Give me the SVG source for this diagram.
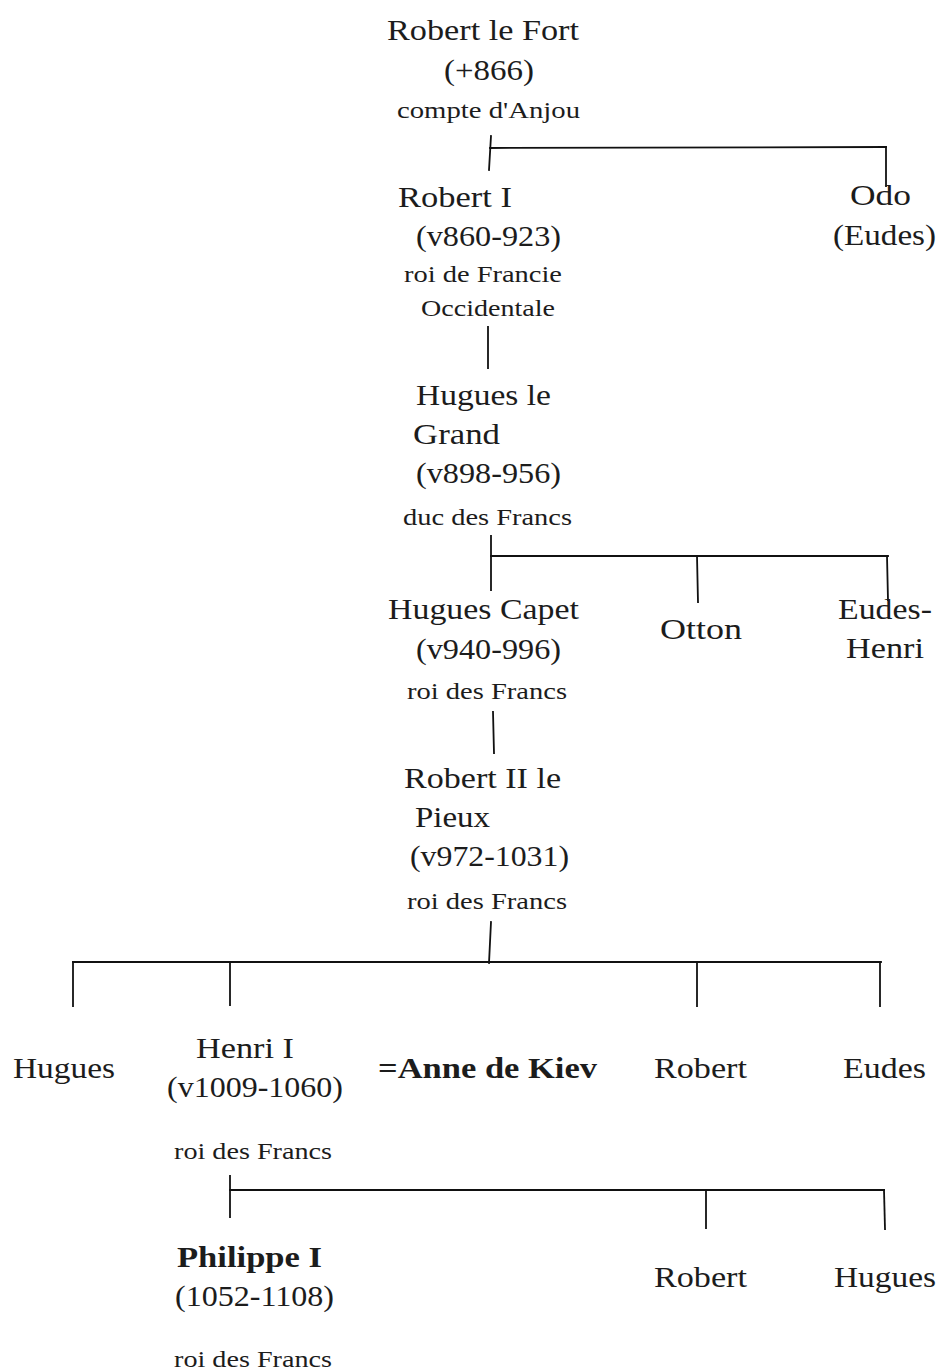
<svg xmlns="http://www.w3.org/2000/svg" width="941" height="1372" viewBox="0 0 941 1372">
<style>
text{font-family:"Liberation Serif","Times New Roman",serif;fill:#1c1c1c}
.m{font-size:30px}
.s{font-size:23px}
.b{font-weight:bold}
.c line{stroke:#111;stroke-width:1.8;stroke-linecap:square}
</style>
<rect width="941" height="1372" fill="#fff"/>
<g class="c" id="connectors">
<line x1="491" y1="136" x2="489" y2="170"/>
<line x1="490" y1="148" x2="886" y2="147"/>
<line x1="886" y1="147" x2="886" y2="186"/>
<line x1="488" y1="327" x2="488" y2="368"/>
<line x1="491" y1="536" x2="491" y2="590"/>
<line x1="491" y1="556" x2="888" y2="556"/>
<line x1="697" y1="556" x2="698" y2="602"/>
<line x1="887" y1="556" x2="888" y2="600"/>
<line x1="493" y1="712" x2="494" y2="753"/>
<line x1="491" y1="922" x2="489" y2="963"/>
<line x1="73" y1="962" x2="881" y2="962"/>
<line x1="73" y1="962" x2="73" y2="1006"/>
<line x1="230" y1="962" x2="230" y2="1005"/>
<line x1="697" y1="962" x2="697" y2="1006"/>
<line x1="880" y1="962" x2="880" y2="1006"/>
<line x1="230" y1="1176" x2="230" y2="1217"/>
<line x1="230" y1="1190" x2="884" y2="1190"/>
<line x1="706" y1="1190" x2="706" y2="1228"/>
<line x1="884" y1="1190" x2="885" y2="1229"/>
</g>
<g id="robert-le-fort">
<text class="m" x="387" y="40" textLength="192" lengthAdjust="spacingAndGlyphs">Robert le Fort</text>
<text class="m" x="444" y="80" textLength="90" lengthAdjust="spacingAndGlyphs">(+866)</text>
<text class="s" x="397" y="118" textLength="183" lengthAdjust="spacingAndGlyphs">compte d'Anjou</text>
</g>
<g id="robert-i">
<text class="m" x="398" y="207" textLength="114" lengthAdjust="spacingAndGlyphs">Robert I</text>
<text class="m" x="416" y="246" textLength="145" lengthAdjust="spacingAndGlyphs">(v860-923)</text>
<text class="s" x="404" y="282" textLength="158" lengthAdjust="spacingAndGlyphs">roi de Francie</text>
<text class="s" x="421" y="316" textLength="134" lengthAdjust="spacingAndGlyphs">Occidentale</text>
</g>
<g id="odo">
<text class="m" x="850" y="205" textLength="61" lengthAdjust="spacingAndGlyphs">Odo</text>
<text class="m" x="833" y="245" textLength="103" lengthAdjust="spacingAndGlyphs">(Eudes)</text>
</g>
<g id="hugues-le-grand">
<text class="m" x="416" y="405" textLength="135" lengthAdjust="spacingAndGlyphs">Hugues le</text>
<text class="m" x="413" y="444" textLength="87" lengthAdjust="spacingAndGlyphs">Grand</text>
<text class="m" x="416" y="483" textLength="145" lengthAdjust="spacingAndGlyphs">(v898-956)</text>
<text class="s" x="403" y="525" textLength="169" lengthAdjust="spacingAndGlyphs">duc des Francs</text>
</g>
<g id="hugues-capet">
<text class="m" x="388" y="619" textLength="191" lengthAdjust="spacingAndGlyphs">Hugues Capet</text>
<text class="m" x="416" y="659" textLength="145" lengthAdjust="spacingAndGlyphs">(v940-996)</text>
<text class="s" x="407" y="699" textLength="160" lengthAdjust="spacingAndGlyphs">roi des Francs</text>
</g>
<g id="otton">
<text class="m" x="660" y="639" textLength="82" lengthAdjust="spacingAndGlyphs">Otton</text>
</g>
<g id="eudes-henri">
<text class="m" x="838" y="619" textLength="94" lengthAdjust="spacingAndGlyphs">Eudes-</text>
<text class="m" x="846" y="658" textLength="78" lengthAdjust="spacingAndGlyphs">Henri</text>
</g>
<g id="robert-ii">
<text class="m" x="404" y="788" textLength="157" lengthAdjust="spacingAndGlyphs">Robert II le</text>
<text class="m" x="415" y="827" textLength="75" lengthAdjust="spacingAndGlyphs">Pieux</text>
<text class="m" x="410" y="866" textLength="159" lengthAdjust="spacingAndGlyphs">(v972-1031)</text>
<text class="s" x="407" y="909" textLength="160" lengthAdjust="spacingAndGlyphs">roi des Francs</text>
</g>
<g id="hugues-1">
<text class="m" x="13" y="1078" textLength="102" lengthAdjust="spacingAndGlyphs">Hugues</text>
</g>
<g id="henri-i">
<text class="m" x="196" y="1058" textLength="98" lengthAdjust="spacingAndGlyphs">Henri I</text>
<text class="m" x="167" y="1097" textLength="176" lengthAdjust="spacingAndGlyphs">(v1009-1060)</text>
<text class="s" x="174" y="1159" textLength="158" lengthAdjust="spacingAndGlyphs">roi des Francs</text>
</g>
<g id="anne-de-kiev">
<text class="m b" x="378" y="1078" textLength="219" lengthAdjust="spacingAndGlyphs">=Anne de Kiev</text>
</g>
<g id="robert-1">
<text class="m" x="654" y="1078" textLength="93" lengthAdjust="spacingAndGlyphs">Robert</text>
</g>
<g id="eudes">
<text class="m" x="843" y="1078" textLength="83" lengthAdjust="spacingAndGlyphs">Eudes</text>
</g>
<g id="philippe-i">
<text class="m b" x="177" y="1267" textLength="145" lengthAdjust="spacingAndGlyphs">Philippe I</text>
<text class="m" x="175" y="1306" textLength="159" lengthAdjust="spacingAndGlyphs">(1052-1108)</text>
<text class="s" x="174" y="1367" textLength="158" lengthAdjust="spacingAndGlyphs">roi des Francs</text>
</g>
<g id="robert-2">
<text class="m" x="654" y="1287" textLength="93" lengthAdjust="spacingAndGlyphs">Robert</text>
</g>
<g id="hugues-2">
<text class="m" x="834" y="1287" textLength="102" lengthAdjust="spacingAndGlyphs">Hugues</text>
</g>
</svg>
